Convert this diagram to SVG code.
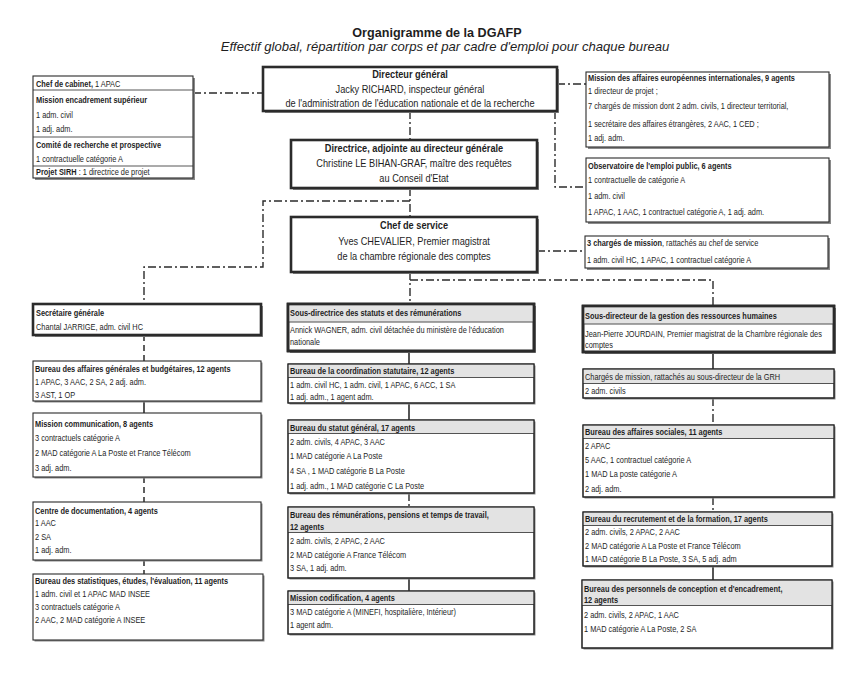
<svg xmlns="http://www.w3.org/2000/svg" width="866" height="676" viewBox="0 0 866 676">
<style>
.t{font-family:'Liberation Sans',Arial,sans-serif;fill:#1e1e1e}
.s{font-size:9.6px}
.L{font-size:11.8px}
.b{font-weight:bold}
.box{fill:#fff;stroke:#2b2b2b;stroke-width:1.1}
.ol{fill:none;stroke:#2b2b2b;stroke-width:1.1}
.thick{fill:#fff;stroke:#2b2b2b;stroke-width:2.6}
.tho{fill:none;stroke:#2b2b2b;stroke-width:2.6}
.sh{fill:#8a8a8a}
.hd{fill:#e3e3e3}
.dv{stroke:#2b2b2b;stroke-width:0.8}
.c{fill:none;stroke:#2b2b2b;stroke-width:1.4;stroke-dasharray:8 3 2 3}
.cd{fill:none;stroke:#2b2b2b;stroke-width:1.5;stroke-dasharray:6 4}
.cs{fill:none;stroke:#2b2b2b;stroke-width:1.6}
</style>
<rect width="866" height="676" fill="#fff"/>
<text class="t b" x="437" y="37" text-anchor="middle" font-size="12.6">Organigramme de la DGAFP</text>
<text class="t" x="445" y="51" text-anchor="middle" font-size="13.1" font-style="italic">Effectif global, répartition par corps et par cadre d'emploi pour chaque bureau</text>

<g id="connectors">
<path class="c" d="M193 93H263"/>
<path class="c" d="M557 84H586"/>
<path class="c" d="M410 111V140"/>
<path class="c" d="M555 111V187H586"/>
<path class="c" d="M410 188V217"/>
<path class="c" d="M410 201H263V267H144V304"/>
<path class="c" d="M537 251H585"/>
<path class="c" d="M410 272V304"/>
<path class="c" d="M410 280H713V306"/>
<path class="cd" d="M144 335V361"/>
<path class="cs" d="M144 402V413"/>
<path class="cd" d="M144 477V502"/>
<path class="cd" d="M144 560V574"/>
<path class="cs" d="M409 351V364"/>
<path class="cs" d="M409 404V420"/>
<path class="c" d="M409 493V507"/>
<path class="cs" d="M409 578V591"/>
<path class="cs" d="M713 352V369"/>
<path class="c" d="M713 398V425"/>
<path class="c" d="M713 497V512"/>
<path class="cs" d="M713 566V580"/>
</g>

<g id="cabinet">
<rect class="sh" x="35" y="78" width="160" height="102"/>
<rect class="box" x="33" y="76" width="160" height="102"/>
<line class="dv" x1="33" y1="90" x2="193" y2="90"/>
<line class="dv" x1="33" y1="137" x2="193" y2="137"/>
<line class="dv" x1="33" y1="166" x2="193" y2="166"/>
<g transform="translate(36 0) scale(0.77 1)">
<text class="t s" y="87"><tspan class="b">Chef de cabinet,</tspan> 1 APAC</text>
<text class="t s b" y="103">Mission encadrement supérieur</text>
<text class="t s" y="118">1 adm. civil</text>
<text class="t s" y="132">1 adj. adm.</text>
<text class="t s b" y="148">Comité de recherche et prospective</text>
<text class="t s" y="162">1 contractuelle catégorie A</text>
<text class="t s" y="175"><tspan class="b">Projet SIRH</tspan> : 1 directrice de projet</text>
</g>
</g>

<g id="dg">
<rect class="sh" x="265" y="69" width="294" height="44"/>
<rect class="thick" x="263" y="67" width="294" height="44"/>
<g transform="translate(410 0) scale(0.78 1)">
<text class="t L b" text-anchor="middle" y="78">Directeur général</text>
<text class="t L" text-anchor="middle" y="93">Jacky RICHARD, inspecteur général</text>
<text class="t L" text-anchor="middle" y="107">de l'administration de l'éducation nationale et de la recherche</text>
</g>
</g>

<g id="directrice">
<rect class="sh" x="293" y="142" width="246" height="48"/>
<rect class="thick" x="291" y="140" width="246" height="48"/>
<g transform="translate(414 0) scale(0.78 1)">
<text class="t L b" text-anchor="middle" y="152">Directrice, adjointe au directeur générale</text>
<text class="t L" text-anchor="middle" y="167">Christine LE BIHAN-GRAF, maître des requêtes</text>
<text class="t L" text-anchor="middle" y="182">au Conseil d'Etat</text>
</g>
</g>

<g id="chef">
<rect class="sh" x="293" y="219" width="246" height="55"/>
<rect class="thick" x="291" y="217" width="246" height="55"/>
<g transform="translate(414 0) scale(0.78 1)">
<text class="t L b" text-anchor="middle" y="229">Chef de service</text>
<text class="t L" text-anchor="middle" y="245">Yves CHEVALIER, Premier magistrat</text>
<text class="t L" text-anchor="middle" y="260">de la chambre régionale des comptes</text>
</g>
</g>

<g id="mission-europe">
<rect class="sh" x="588" y="74" width="243" height="75"/>
<rect class="box" x="586" y="72" width="243" height="75"/>
<g transform="translate(588 0) scale(0.77 1)">
<text class="t s b" y="81">Mission des affaires européennes internationales, 9 agents</text>
<text class="t s" y="94">1 directeur de projet ;</text>
<text class="t s" y="109">7 chargés de mission dont 2 adm. civils, 1 directeur territorial,</text>
<text class="t s" y="127">1 secrétaire des affaires étrangères, 2 AAC, 1 CED ;</text>
<text class="t s" y="141">1 adj. adm.</text>
</g>
</g>

<g id="observatoire">
<rect class="sh" x="588" y="160" width="243" height="64"/>
<rect class="box" x="586" y="158" width="243" height="64"/>
<g transform="translate(588 0) scale(0.77 1)">
<text class="t s b" y="169">Observatoire de l'emploi public, 6 agents</text>
<text class="t s" y="183">1 contractuelle de catégorie A</text>
<text class="t s" y="199">1 adm. civil</text>
<text class="t s" y="215">1 APAC, 1 AAC, 1 contractuel catégorie A, 1 adj. adm.</text>
</g>
</g>

<g id="charges-chef">
<rect class="sh" x="587" y="238" width="243" height="32"/>
<rect class="box" x="585" y="236" width="243" height="32"/>
<g transform="translate(587 0) scale(0.77 1)">
<text class="t s" y="246"><tspan class="b">3 chargés de mission</tspan>, rattachés au chef de service</text>
<text class="t s" y="263">1 adm. civil HC, 1 APAC, 1 contractuel catégorie A</text>
</g>
</g>

<!-- Left column -->
<g id="secretaire">
<rect class="sh" x="35" y="306" width="228" height="31"/>
<rect class="thick" x="33" y="304" width="228" height="31"/>
<g transform="translate(36 0) scale(0.77 1)">
<text class="t s b" y="316">Secrétaire générale</text>
<text class="t s" y="330">Chantal JARRIGE, adm. civil HC</text>
</g>
</g>

<g id="bureau-affaires-generales">
<rect class="sh" x="34.5" y="362.5" width="228" height="40"/>
<rect class="box" x="33" y="361" width="228" height="40"/>
<g transform="translate(35 0) scale(0.77 1)">
<text class="t s b" y="372">Bureau des affaires générales et budgétaires, 12 agents</text>
<text class="t s" y="385">1 APAC, 3 AAC, 2 SA, 2 adj. adm.</text>
<text class="t s" y="398">3 AST, 1 OP</text>
</g>
</g>

<g id="mission-communication">
<rect class="sh" x="34.5" y="414.5" width="228" height="64"/>
<rect class="box" x="33" y="413" width="228" height="64"/>
<g transform="translate(35 0) scale(0.77 1)">
<text class="t s b" y="427">Mission communication, 8 agents</text>
<text class="t s" y="441">3 contractuels catégorie  A</text>
<text class="t s" y="456">2 MAD catégorie A La Poste et France Télécom</text>
<text class="t s" y="471">3 adj. adm.</text>
</g>
</g>

<g id="centre-documentation">
<rect class="sh" x="34.5" y="503.5" width="228" height="58"/>
<rect class="box" x="33" y="502" width="228" height="58"/>
<g transform="translate(35 0) scale(0.77 1)">
<text class="t s b" y="514">Centre de documentation, 4 agents</text>
<text class="t s" y="526">1 AAC</text>
<text class="t s" y="540">2 SA</text>
<text class="t s" y="553">1 adj. adm.</text>
</g>
</g>

<g id="bureau-statistiques">
<rect class="sh" x="34.5" y="575.5" width="230" height="66"/>
<rect class="box" x="33" y="574" width="230" height="66"/>
<g transform="translate(35 0) scale(0.77 1)">
<text class="t s b" y="584">Bureau des statistiques, études, l'évaluation, 11 agents</text>
<text class="t s" y="597">1 adm. civil et 1 APAC MAD INSEE</text>
<text class="t s" y="610">3 contractuels catégorie A</text>
<text class="t s" y="623">2 AAC, 2 MAD catégorie A INSEE</text>
</g>
</g>

<!-- Middle column -->
<g id="sous-directrice-statuts">
<rect class="sh" x="290" y="306" width="246" height="47"/>
<rect class="thick" x="288" y="304" width="246" height="47"/>
<rect class="hd" x="289.3" y="305.3" width="243.4" height="17"/>
<line class="dv" x1="288" y1="322" x2="534" y2="322"/>
<rect class="tho" x="288" y="304" width="246" height="47"/>
<g transform="translate(290 0) scale(0.77 1)">
<text class="t s b" y="316">Sous-directrice des statuts et des rémunérations</text>
<text class="t s" y="333">Annick WAGNER, adm. civil détachée du ministère de l'éducation</text>
<text class="t s" y="345">nationale</text>
</g>
</g>

<g id="bureau-coordination">
<rect class="sh" x="289.5" y="365.5" width="246" height="39"/>
<rect class="box" x="288" y="364" width="246" height="39"/>
<rect class="hd" x="288.5" y="364.5" width="245" height="13"/>
<line class="dv" x1="288" y1="377.5" x2="534" y2="377.5"/>
<rect class="ol" x="288" y="364" width="246" height="39"/>
<g transform="translate(290 0) scale(0.77 1)">
<text class="t s b" y="374">Bureau de la coordination statutaire, 12 agents</text>
<text class="t s" y="388">1 adm. civil HC, 1 adm. civil, 1 APAC, 6 ACC, 1 SA</text>
<text class="t s" y="400">1 adj. adm., 1 agent adm.</text>
</g>
</g>

<g id="bureau-statut-general">
<rect class="sh" x="289.5" y="421.5" width="246" height="73"/>
<rect class="box" x="288" y="420" width="246" height="73"/>
<rect class="hd" x="288.5" y="420.5" width="245" height="13"/>
<line class="dv" x1="288" y1="433.5" x2="534" y2="433.5"/>
<rect class="ol" x="288" y="420" width="246" height="73"/>
<g transform="translate(290 0) scale(0.77 1)">
<text class="t s b" y="431">Bureau du statut général, 17 agents</text>
<text class="t s" y="445">2 adm. civils, 4 APAC, 3 AAC</text>
<text class="t s" y="459">1 MAD catégorie A La Poste</text>
<text class="t s" y="474">4 SA , 1 MAD catégorie B La Poste</text>
<text class="t s" y="489">1 adj. adm., 1 MAD catégorie C La Poste</text>
</g>
</g>

<g id="bureau-remunerations">
<rect class="sh" x="289.5" y="508.5" width="246" height="71"/>
<rect class="box" x="288" y="507" width="246" height="71"/>
<rect class="hd" x="288.5" y="507.5" width="245" height="25"/>
<line class="dv" x1="288" y1="532.5" x2="534" y2="532.5"/>
<rect class="ol" x="288" y="507" width="246" height="71"/>
<g transform="translate(290 0) scale(0.77 1)">
<text class="t s b" y="518">Bureau des rémunérations, pensions et temps de travail,</text>
<text class="t s b" y="530">12 agents</text>
<text class="t s" y="544">2 adm. civils, 2 APAC, 2 AAC</text>
<text class="t s" y="558">2 MAD catégorie A France Télécom</text>
<text class="t s" y="571">3 SA, 1 adj. adm.</text>
</g>
</g>

<g id="mission-codification">
<rect class="sh" x="289.5" y="592.5" width="246" height="43"/>
<rect class="box" x="288" y="591" width="246" height="43"/>
<rect class="hd" x="288.5" y="591.5" width="245" height="13"/>
<line class="dv" x1="288" y1="604.5" x2="534" y2="604.5"/>
<rect class="ol" x="288" y="591" width="246" height="43"/>
<g transform="translate(290 0) scale(0.77 1)">
<text class="t s b" y="601">Mission codification, 4 agents</text>
<text class="t s" y="615">3 MAD catégorie A (MINEFI, hospitalière, Intérieur)</text>
<text class="t s" y="628">1 agent adm.</text>
</g>
</g>

<!-- Right column -->
<g id="sous-directeur-grh">
<rect class="sh" x="585" y="308" width="251" height="46"/>
<rect class="thick" x="583" y="306" width="251" height="46"/>
<rect class="hd" x="584.3" y="307.3" width="248.4" height="17"/>
<line class="dv" x1="583" y1="324" x2="834" y2="324"/>
<rect class="tho" x="583" y="306" width="251" height="46"/>
<g transform="translate(585 0) scale(0.77 1)">
<text class="t s b" y="319">Sous-directeur de la gestion des ressources humaines</text>
<text class="t s" y="337">Jean-Pierre JOURDAIN, Premier magistrat de la Chambre régionale des</text>
<text class="t s" y="348">comptes</text>
</g>
</g>

<g id="charges-grh">
<rect class="sh" x="584.5" y="370.5" width="251" height="29"/>
<rect class="box" x="583" y="369" width="251" height="29"/>
<rect class="hd" x="583.5" y="369.5" width="250" height="14"/>
<line class="dv" x1="583" y1="383.5" x2="834" y2="383.5"/>
<rect class="ol" x="583" y="369" width="251" height="29"/>
<g transform="translate(585 0) scale(0.77 1)">
<text class="t s" y="380">Chargés de mission, rattachés au sous-directeur de la GRH</text>
<text class="t s" y="394">2 adm. civils</text>
</g>
</g>

<g id="bureau-affaires-sociales">
<rect class="sh" x="584.5" y="426.5" width="251" height="72"/>
<rect class="box" x="583" y="425" width="251" height="72"/>
<rect class="hd" x="583.5" y="425.5" width="250" height="13"/>
<line class="dv" x1="583" y1="438.5" x2="834" y2="438.5"/>
<rect class="ol" x="583" y="425" width="251" height="72"/>
<g transform="translate(585 0) scale(0.77 1)">
<text class="t s b" y="435">Bureau des affaires sociales, 11 agents</text>
<text class="t s" y="449">2 APAC</text>
<text class="t s" y="463">5 AAC, 1 contractuel catégorie A</text>
<text class="t s" y="477">1 MAD La poste catégorie A</text>
<text class="t s" y="492">2 adj. adm.</text>
</g>
</g>

<g id="bureau-recrutement">
<rect class="sh" x="584.5" y="513.5" width="249" height="54"/>
<rect class="box" x="583" y="512" width="249" height="54"/>
<rect class="hd" x="583.5" y="512.5" width="248" height="13"/>
<line class="dv" x1="583" y1="525.5" x2="832" y2="525.5"/>
<rect class="ol" x="583" y="512" width="249" height="54"/>
<g transform="translate(585 0) scale(0.77 1)">
<text class="t s b" y="522">Bureau du recrutement et de la formation, 17 agents</text>
<text class="t s" y="535">2 adm. civils, 2 APAC, 2 AAC</text>
<text class="t s" y="549">2 MAD catégorie A La Poste et France Télécom</text>
<text class="t s" y="562">1 MAD catégorie B La Poste, 3 SA, 5 adj. adm</text>
</g>
</g>

<g id="bureau-personnels">
<rect class="sh" x="583.5" y="581.5" width="250" height="68"/>
<rect class="box" x="582" y="580" width="250" height="68"/>
<rect class="hd" x="582.5" y="580.5" width="249" height="25"/>
<line class="dv" x1="582" y1="605.5" x2="832" y2="605.5"/>
<rect class="ol" x="582" y="580" width="250" height="68"/>
<g transform="translate(584 0) scale(0.77 1)">
<text class="t s b" y="592">Bureau des personnels de conception et d'encadrement,</text>
<text class="t s b" y="603">12 agents</text>
<text class="t s" y="618">2 adm. civils, 2 APAC, 1 AAC</text>
<text class="t s" y="632">1 MAD catégorie A La Poste, 2 SA</text>
</g>
</g>
</svg>
